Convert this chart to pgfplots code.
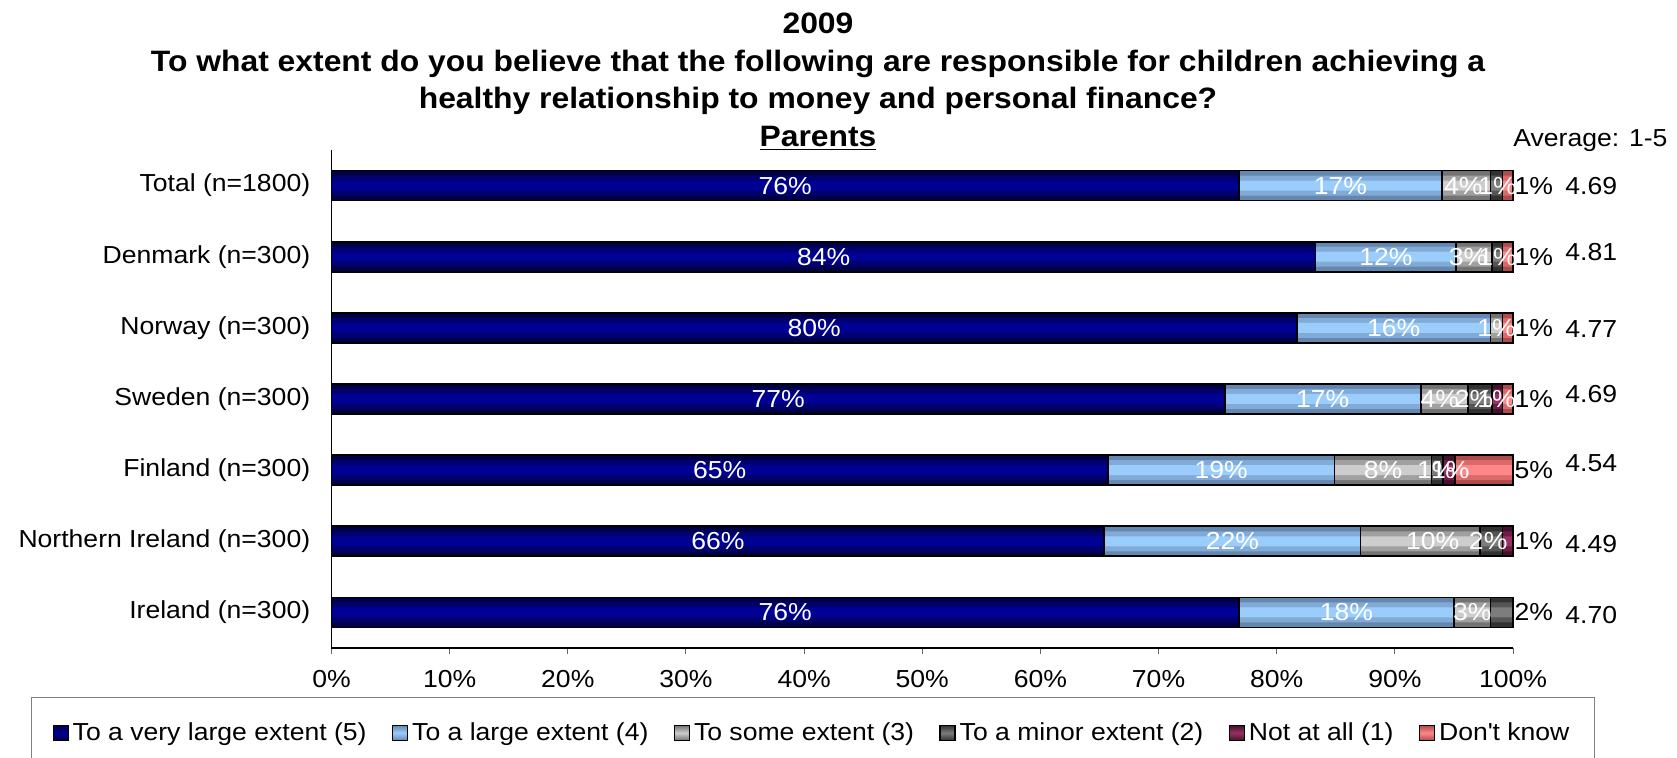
\documentclass[border=0pt]{standalone}
\usepackage{fontspec}
\setmainfont{Liberation Sans}[FakeStretch=1.08]
\usepackage{pgfplots}
\usepackage{pgfplotstable}
\pgfplotsset{compat=1.18}

\newcommand\lbl{\fontsize{12.3}{14}\selectfont}

% edge / mid / centre shades of each series
\definecolor{navyE}{RGB}{0,0,70}
\definecolor{navyD}{RGB}{0,0,110}
\definecolor{navyM}{RGB}{0,0,148}
\definecolor{lblE}{RGB}{100,135,175}
\definecolor{lblD}{RGB}{130,170,215}
\definecolor{lblM}{RGB}{155,205,252}
\definecolor{gr3E}{RGB}{115,115,115}
\definecolor{gr3D}{RGB}{160,160,160}
\definecolor{gr3M}{RGB}{205,205,205}
\definecolor{gr2E}{RGB}{50,50,50}
\definecolor{gr2D}{RGB}{85,85,85}
\definecolor{gr2M}{RGB}{125,125,125}
\definecolor{marE}{RGB}{70,15,45}
\definecolor{marD}{RGB}{110,30,70}
\definecolor{marM}{RGB}{150,50,100}
\definecolor{salE}{RGB}{175,75,75}
\definecolor{salD}{RGB}{220,105,105}
\definecolor{salM}{RGB}{255,135,135}

% y: 6 = Total ... 0 = Ireland
\pgfplotstableread{
y a b c d e f
6 76.8 17.2 4.1 1.0 0 0.9
5 83.3 11.9 3.0 0.9 0 0.9
4 81.7 16.4 1.0 0 0 0.9
3 75.6 16.6 4.0 2.0 0.9 0.9
2 65.7 19.2 8.2 1.0 1.0 4.9
1 65.4 21.7 10.1 1.9 0.9 0
0 76.8 18.2 3.1 1.9 0 0
}\bars

\pgfplotstableread{
x y lab
38.4 6 76
85.4 6 17
95.8 6 4
98.7 6 1
41.65 5 84
89.25 5 12
96.2 5 3
98.7 5 1
40.85 4 80
89.9 4 16
98.6 4 1
37.8 3 77
83.9 3 17
93.8 3 4
96.7 3 2
98.6 3 1
32.85 2 65
75.3 2 19
89.0 2 8
93.5 2 1
94.7 2 1
32.7 1 66
76.25 1 22
93.2 1 10
97.9 1 2
38.4 0 76
85.9 0 18
96.55 0 3
}\inlabels

\pgfplotstableread{
x y lab
100 6 1
100 5 1
100 4 1
100 3 1
100 2 5
100 1 1
100 0 2
}\outlabels

\pgfplotstableread{
x y lab
104.4 6.0 4.69
104.4 5.07 4.81
104.4 3.99 4.77
104.4 3.07 4.69
104.4 2.1 4.54
104.4 0.96 4.49
104.4 -0.04 4.70
}\avglabels

\pgfplotsset{
  commonaxis/.style={
    at={(165.75pt,55pt)}, anchor=south west,
    scale only axis, width=590.75pt, height=249pt,
    xmin=0, xmax=100, ymin=-0.5, ymax=6.5,
    clip=false,
  },
  barlayer/.style={commonaxis, hide axis, xbar stacked, bar width=#1},
}

\begin{document}
\begin{tikzpicture}
\useasboundingbox (0,0) rectangle (838.5pt,379pt);

% layer 1: full-height bars, edge shade
\begin{axis}[barlayer=15pt]
\addplot[fill=navyE, draw=none] table[x=a, y=y]{\bars};
\addplot[fill=lblE, draw=none] table[x=b, y=y]{\bars};
\addplot[fill=gr3E, draw=none] table[x=c, y=y]{\bars};
\addplot[fill=gr2E, draw=none] table[x=d, y=y]{\bars};
\addplot[fill=marE, draw=none] table[x=e, y=y]{\bars};
\addplot[fill=salE, draw=none] table[x=f, y=y]{\bars};
\end{axis}
% layer 2: inner band
\begin{axis}[barlayer=10pt]
\addplot[fill=navyD, draw=none] table[x=a, y=y]{\bars};
\addplot[fill=lblD, draw=none] table[x=b, y=y]{\bars};
\addplot[fill=gr3D, draw=none] table[x=c, y=y]{\bars};
\addplot[fill=gr2D, draw=none] table[x=d, y=y]{\bars};
\addplot[fill=marD, draw=none] table[x=e, y=y]{\bars};
\addplot[fill=salD, draw=none] table[x=f, y=y]{\bars};
\end{axis}
% layer 3: centre band
\begin{axis}[barlayer=5pt]
\addplot[fill=navyM, draw=none] table[x=a, y=y]{\bars};
\addplot[fill=lblM, draw=none] table[x=b, y=y]{\bars};
\addplot[fill=gr3M, draw=none] table[x=c, y=y]{\bars};
\addplot[fill=gr2M, draw=none] table[x=d, y=y]{\bars};
\addplot[fill=marM, draw=none] table[x=e, y=y]{\bars};
\addplot[fill=salM, draw=none] table[x=f, y=y]{\bars};
\end{axis}

% layer 4: outlines and the axes
\begin{axis}[commonaxis,
  xbar stacked, bar width=15pt,
  axis lines*=left,
  axis line style={-, line width=0.6pt, black},
  xtick={0,10,...,100},
  xticklabels={0\%,10\%,20\%,30\%,40\%,50\%,60\%,70\%,80\%,90\%,100\%},
  ytick={0,1,2,3,4,5,6},
  yticklabels={Ireland (n=300),Northern Ireland (n=300),Finland (n=300),Sweden (n=300),Norway (n=300),Denmark (n=300),Total (n=1800)},
  tick label style={font=\lbl},
  yticklabel style={anchor=east, inner sep=0pt, xshift=-7.45pt},
  xticklabel style={anchor=north, inner sep=0pt, yshift=-8pt},
  tick align=outside, major tick length=3pt,
  xtick style={draw=gray!80!black, line width=0.5pt},
  ytick style={draw=none},
  /pgf/number format/assume math mode=true,
]
\addplot[fill=none, draw=black, line width=0.8pt] table[x=a, y=y]{\bars};
\addplot[fill=none, draw=black, line width=0.8pt] table[x=b, y=y]{\bars};
\addplot[fill=none, draw=black, line width=0.8pt] table[x=c, y=y]{\bars};
\addplot[fill=none, draw=black, line width=0.8pt] table[x=d, y=y]{\bars};
\addplot[fill=none, draw=black, line width=0.8pt] table[x=e, y=y]{\bars};
\addplot[fill=none, draw=black, line width=0.8pt] table[x=f, y=y]{\bars};
\end{axis}

% labels and legend
\begin{axis}[commonaxis, hide axis,
  legend columns=6,
  legend style={at={(axis description cs:-0.2543,-0.0984)}, anchor=north west,
    draw=gray, line width=0.5pt, font=\lbl, inner xsep=10.5pt, inner ysep=10.5pt,
    /tikz/every even column/.append style={column sep=10.7pt},
    nodes={inner xsep=2pt}},
  legend image code/.code={\draw[#1, draw=black, line width=0.6pt] (0pt,-3.75pt) rectangle (7.5pt,3.75pt);},
]
\addlegendimage{top color=navyE, bottom color=navyE, middle color=navyM}
\addlegendimage{top color=lblE, bottom color=lblE, middle color=lblM}
\addlegendimage{top color=gr3E, bottom color=gr3E, middle color=gr3M}
\addlegendimage{top color=gr2E, bottom color=gr2E, middle color=gr2M}
\addlegendimage{top color=marE, bottom color=marE, middle color=marM}
\addlegendimage{top color=salE, bottom color=salE, middle color=salM}
\addplot[draw=none, mark=none, point meta=explicit symbolic,
  nodes near coords={\pgfplotspointmeta\%},
  every node near coord/.style={anchor=center, text=white, font=\lbl, inner sep=0pt}]
  table[x=x, y=y, meta=lab]{\inlabels};
\addplot[draw=none, mark=none, point meta=explicit symbolic,
  nodes near coords={\pgfplotspointmeta\%},
  every node near coord/.style={anchor=west, text=black, font=\lbl, inner sep=0.6pt}]
  table[x=x, y=y, meta=lab]{\outlabels};
\addplot[draw=none, mark=none, point meta=explicit symbolic,
  nodes near coords={\pgfplotspointmeta},
  every node near coord/.style={anchor=west, text=black, font=\lbl, inner sep=0pt}]
  table[x=x, y=y, meta=lab]{\avglabels};
\node[anchor=west, inner sep=0pt, font=\lbl] at (axis cs:100,6.627) {Average: 1-5};
\legend{To a very large extent (5),To a large extent (4),To some extent (3),To a minor extent (2),Not at all (1),Don\textquotesingle t know}
\end{axis}

\node[anchor=north, inner sep=0pt, align=center,
  font=\bfseries\fontsize{14.75}{18.75}\selectfont] at (409pt,372.6pt)
  {2009\\To what extent do you believe that the following are responsible for children achieving a\\healthy relationship to money and personal finance?\\\underline{Parents}};
\end{tikzpicture}
\end{document}
